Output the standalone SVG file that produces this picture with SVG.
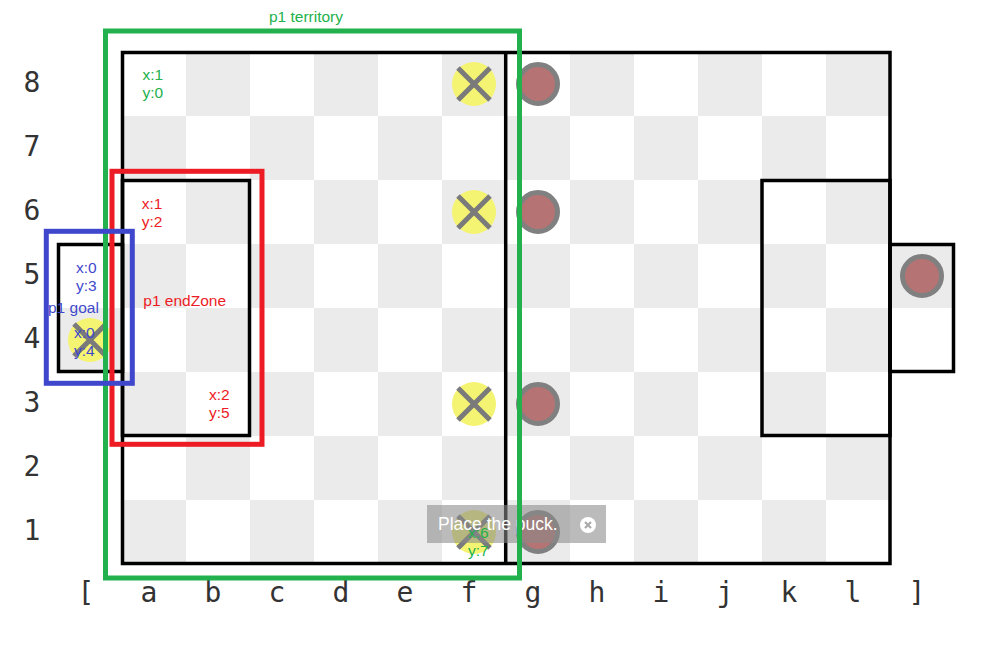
<svg xmlns="http://www.w3.org/2000/svg" width="996" height="649" viewBox="0 0 996 649">
<defs>
<pattern id="chk" x="122" y="52" width="128" height="128" patternUnits="userSpaceOnUse">
<rect x="0" y="0" width="128" height="128" fill="#ffffff"/>
<rect x="64" y="0" width="64" height="64" fill="#ebebeb"/>
<rect x="0" y="64" width="64" height="64" fill="#ebebeb"/>
</pattern>
</defs>
<style>
.axis{font-family:"DejaVu Sans Mono",monospace;font-size:28px;fill:#333;text-anchor:middle}
.line{fill:none;stroke:#000;stroke-width:3.5}
.mark circle{fill:#f4f472}
.mark path{stroke:#7a7a7a;stroke-width:5;fill:none}
.puck{fill:#b57373;stroke:#808080;stroke-width:5}
.lbl{font-family:"Liberation Sans",Arial,sans-serif;font-size:15.5px}
.g{fill:#22b14c}.r{fill:#ed1c24}.b{fill:#3f48cc}
.box{fill:none;stroke-width:5}
</style>
<rect width="996" height="649" fill="#fff"/>
<g id="board">
<rect x="122" y="52" width="768" height="512" fill="url(#chk)"/>
<rect x="58.5" y="244.5" width="63.5" height="127" fill="url(#chk)"/>
<rect x="890" y="244.5" width="63.5" height="127" fill="url(#chk)"/>
<rect class="line" x="122.5" y="52.5" width="767.5" height="511"/>
<line class="line" x1="505.7" y1="52" x2="505.7" y2="564"/>
<rect id="p1-endzone-box" class="line" x="122.5" y="180.5" width="127" height="255"/>
<rect id="p2-endzone-box" class="line" x="762" y="180.5" width="128" height="255"/>
<rect id="p1-goal-box" class="line" x="58.5" y="244.5" width="64" height="127"/>
<rect id="p2-goal-box" class="line" x="890" y="244.5" width="63.5" height="127"/>
</g>
<g id="rank-labels" class="axis">
<text x="32" y="92">8</text><text x="32" y="156">7</text><text x="32" y="220">6</text><text x="32" y="284">5</text>
<text x="32" y="348">4</text><text x="32" y="412">3</text><text x="32" y="476">2</text><text x="32" y="540">1</text>
</g>
<g id="file-labels" class="axis">
<text x="86" y="602">[</text><text x="149" y="602">a</text><text x="213" y="602">b</text><text x="277" y="602">c</text>
<text x="341" y="602">d</text><text x="405" y="602">e</text><text x="469" y="602">f</text><text x="533" y="602">g</text>
<text x="597" y="602">h</text><text x="661" y="602">i</text><text x="725" y="602">j</text><text x="789" y="602">k</text>
<text x="853" y="602">l</text><text x="917" y="602">]</text>
</g>
<g id="mark-f8" class="mark"><circle cx="474" cy="84" r="22"/><path d="M458 68L490 100M490 68L458 100"/></g>
<g id="mark-f6" class="mark"><circle cx="474" cy="212" r="22"/><path d="M458 196L490 228M490 196L458 228"/></g>
<g id="mark-f3" class="mark"><circle cx="474" cy="404" r="22"/><path d="M458 388L490 420M490 388L458 420"/></g>
<g id="mark-f1" class="mark"><circle cx="474" cy="532" r="22"/><path d="M458 516L490 548M490 516L458 548"/></g>
<g id="mark-goal" class="mark"><circle cx="90" cy="340" r="22"/><path d="M74 324L106 356M106 324L74 356"/></g>
<g id="puck-g8"><circle class="puck" cx="538" cy="84" r="19.5"/></g>
<g id="puck-g6"><circle class="puck" cx="538" cy="212" r="19.5"/></g>
<g id="puck-g3"><circle class="puck" cx="538" cy="404" r="19.5"/></g>
<g id="puck-g1"><circle class="puck" cx="538" cy="532" r="19.5"/></g>
<g id="puck-goal"><circle class="puck" cx="922" cy="276" r="19.5"/></g>
<g id="toast">
<rect x="427" y="505" width="179" height="38" fill="#8a8a8a" fill-opacity="0.58"/>
<text x="438" y="530" font-family="Liberation Sans,Arial,sans-serif" font-size="17.5" fill="#fff">Place the puck.</text>
<circle cx="588" cy="525" r="8" fill="#fff"/>
<path d="M585 522L591 528M591 522L585 528" stroke="#aaa" stroke-width="2.2"/>
</g>
<g id="p1-territory">
<rect class="box" x="105.5" y="31" width="414" height="547" stroke="#22b14c"/>
<text class="lbl g" x="306" y="21.5" text-anchor="middle">p1 territory</text>
<text class="lbl g" x="142.5" y="80">x:1</text><text class="lbl g" x="142.5" y="98">y:0</text>
<text class="lbl g" x="468" y="538">x:6</text><text class="lbl g" x="468" y="556">y:7</text>
</g>
<g id="p1-endzone">
<rect class="box" x="112" y="171.3" width="150" height="273" stroke="#ed1c24"/>
<text class="lbl r" x="143.3" y="306">p1 endZone</text>
<text class="lbl r" x="141.7" y="209">x:1</text><text class="lbl r" x="141.7" y="227">y:2</text>
<text class="lbl r" x="209" y="400">x:2</text><text class="lbl r" x="209" y="418">y:5</text>
</g>
<g id="p1-goal">
<rect class="box" x="46.3" y="231.3" width="86" height="152" stroke="#3f48cc"/>
<text class="lbl b" x="48" y="313">p1 goal</text>
<text class="lbl b" x="76" y="272.5">x:0</text><text class="lbl b" x="76" y="290.5">y:3</text>
<text class="lbl b" x="74" y="338">x:0</text><text class="lbl b" x="74" y="356">y:4</text>
</g>
</svg>
